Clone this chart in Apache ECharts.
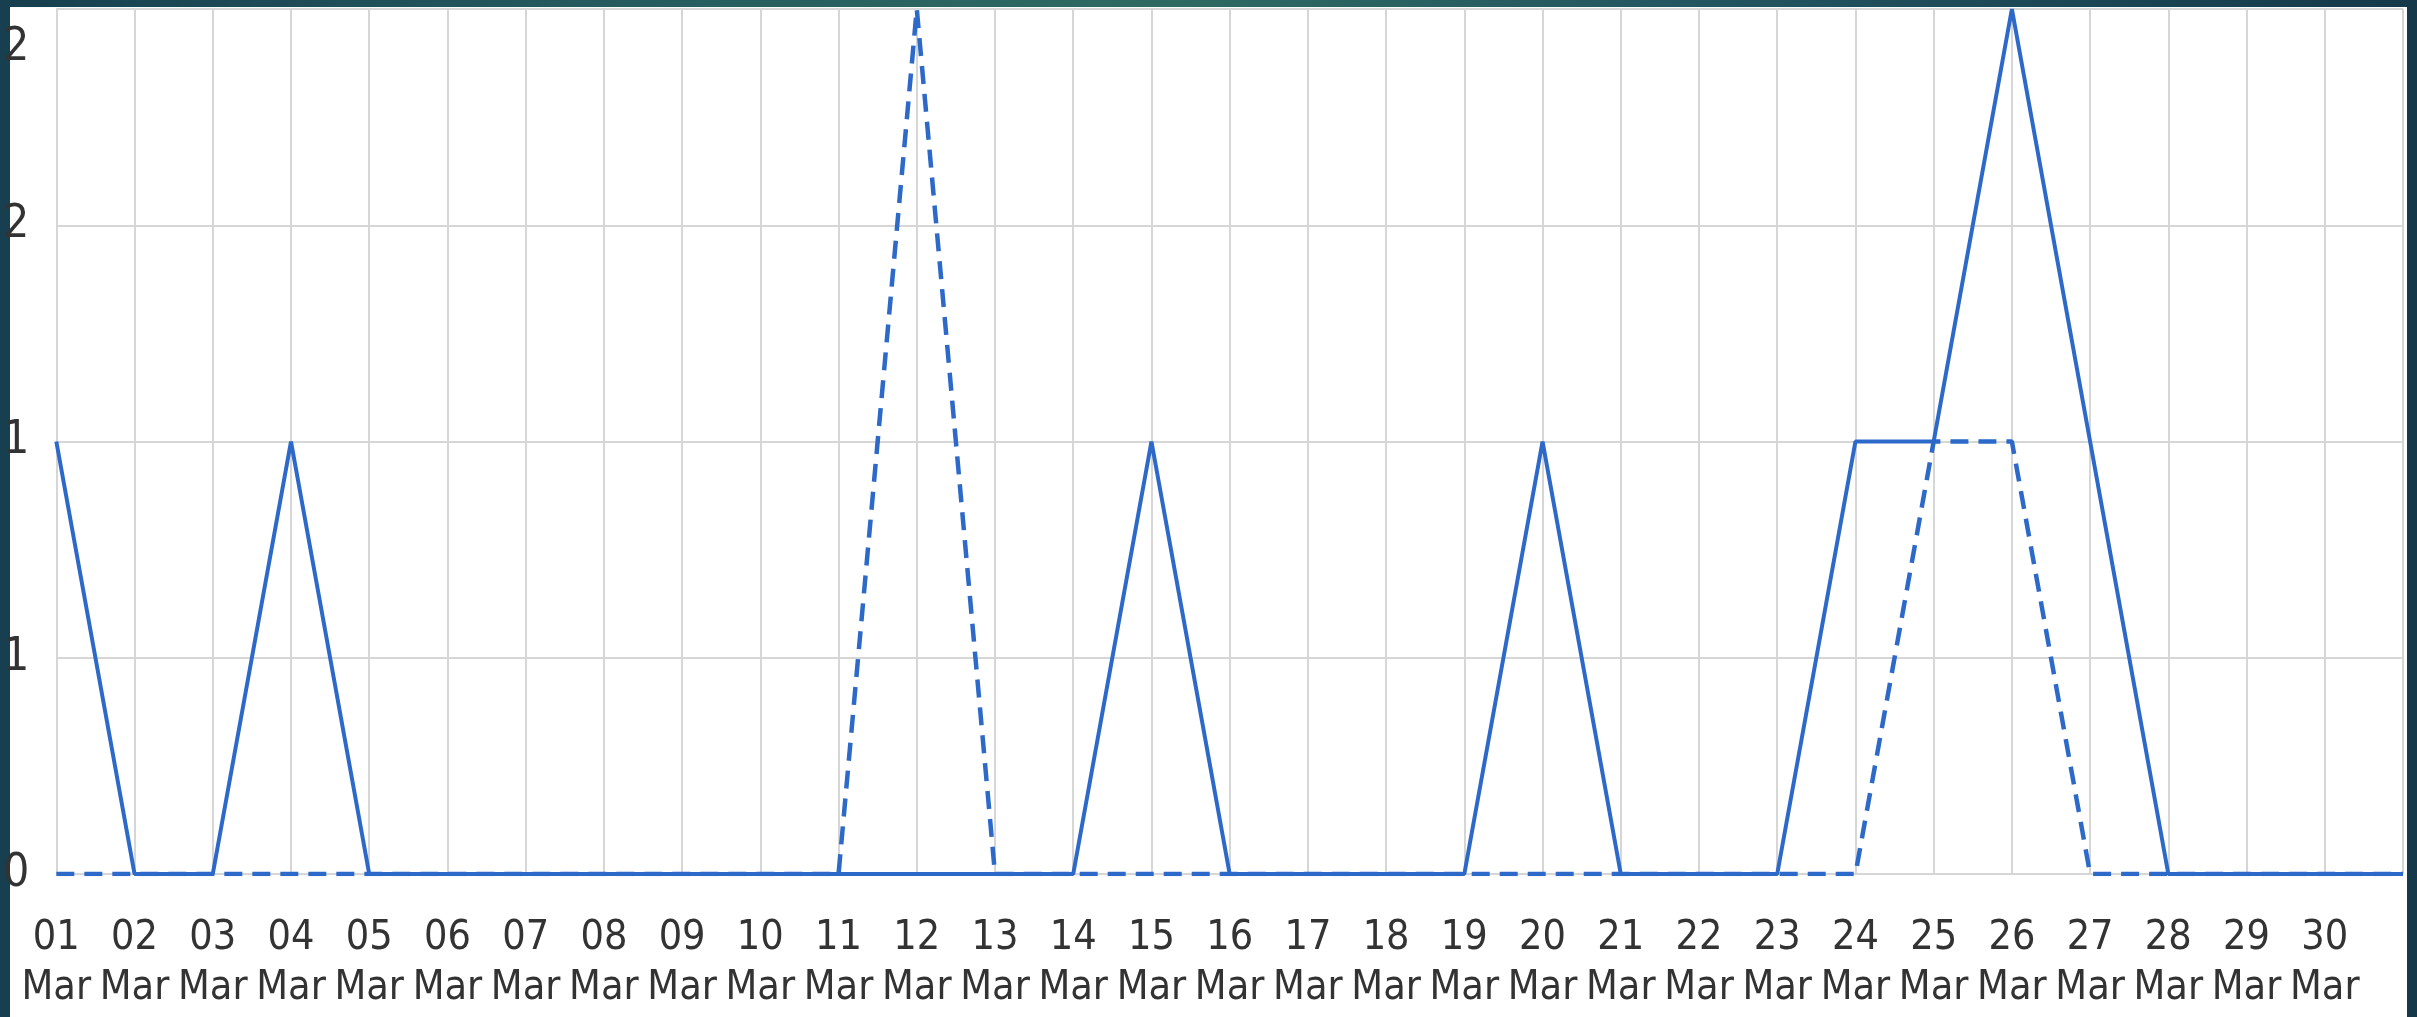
<!DOCTYPE html>
<html>
<head>
<meta charset="utf-8">
<script src="https://cdn.jsdelivr.net/npm/echarts@6/dist/echarts.min.js"></script>
<style>
  html, body { margin: 0; padding: 0; width: 2417px; height: 1017px; overflow: hidden;
    background: linear-gradient(90deg, #173f4f 0%, #255b5e 25%, #2f6a62 48%, #235660 70%, #15394a 100%); }
  #paper { position: absolute; left: 10px; top: 7px; width: 2397px; height: 1010px; background: #ffffff; }
  #chart { position: absolute; left: 0; top: 0; width: 2417px; height: 1017px; }
</style>
</head>
<body>
<div id="paper"></div>
<div id="chart"></div>
<script>
// ---- data ----
const days = ['01','02','03','04','05','06','07','08','09','10','11','12','13','14','15','16',
              '17','18','19','20','21','22','23','24','25','26','27','28','29','30','31'];
const month = 'Mar';
const solidValues  = [1,0,0,1,0, 0,0,0,0,0, 0,0,0,0,1, 0,0,0,0,1, 0,0,0,1,1, 2,1,0,0,0, 0];
const dashedValues = [0,0,0,0,0, 0,0,0,0,0, 0,2,0,0,0, 0,0,0,0,0, 0,0,0,0,1, 1,0,0,0,0, 0];
const yTickValues = [0, 0.5, 1, 1.5, 2];
const yTickLabels = ['0', '1', '1', '2', '2'];

const categories = days.map(d => d + '\n' + month);
const lineColor = '#2c69c8';
const textColor = '#333333';
const gridColor = '#d6d6d6';
const fontFamily = '"DejaVu Sans Condensed", "Liberation Sans Narrow", "DejaVu Sans", sans-serif';
const yMax = yTickValues[yTickValues.length - 1];

function yLabel(v) {
  const i = yTickValues.indexOf(v);
  return i >= 0 ? yTickLabels[i] : '';
}

const chart = echarts.init(document.getElementById('chart'));
chart.setOption({
  animation: false,
  backgroundColor: 'transparent',
  grid: { left: 55, right: 14, top: 9, bottom: 143, containLabel: false },
  xAxis: {
    type: 'category',
    data: categories,
    boundaryGap: false,
    axisLine: { show: false },
    axisTick: { show: false },
    splitLine: { show: true, lineStyle: { color: gridColor, width: 2 } },
    axisLabel: {
      interval: 0,
      margin: 39,
      color: textColor,
      fontFamily: fontFamily,
      fontSize: 41,
      lineHeight: 50,
      formatter: function (v, i) { return i === days.length - 1 ? '' : v; }
    }
  },
  yAxis: [
    {
      type: 'value',
      min: 0,
      max: yMax,
      interval: 0.5,
      axisLine: { show: false },
      axisTick: { show: false },
      splitLine: { show: true, lineStyle: { color: gridColor, width: 2 } },
      axisLabel: {
        margin: 27,
        color: textColor,
        fontFamily: fontFamily,
        fontSize: 46,
        showMaxLabel: false,
        formatter: yLabel
      }
    },
    {
      type: 'value',
      position: 'left',
      min: 0,
      max: yMax,
      interval: 0.5,
      axisLine: { show: false },
      axisTick: { show: false },
      splitLine: { show: false },
      axisLabel: {
        margin: 27,
        color: textColor,
        fontFamily: fontFamily,
        fontSize: 46,
        verticalAlign: 'top',
        padding: [16, 0, 0, 0],
        formatter: function (v) { return v === yMax ? yLabel(v) : ''; }
      }
    }
  ],
  series: [
    {
      name: 'Previous',
      type: 'line',
      data: dashedValues,
      showSymbol: false,
      lineStyle: { color: lineColor, width: 4.5, type: [18, 10] },
      z: 2
    },
    {
      name: 'Current',
      type: 'line',
      data: solidValues,
      showSymbol: false,
      lineStyle: { color: lineColor, width: 4, type: 'solid' },
      z: 3
    }
  ]
});
</script>
</body>
</html>
